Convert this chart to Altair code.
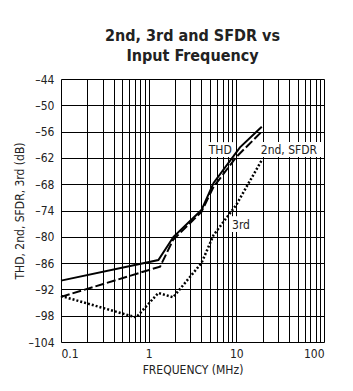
import altair as alt
import pandas as pd

# ---- data ----
thd_freq = [0.1, 1.29, 1.92, 4.0, 5.5, 11.0, 19.5]
thd_val = [-90.0, -85.3, -80.0, -73.9, -67.7, -59.6, -54.9]

sfdr_freq = [0.1, 1.35, 1.9, 4.0, 5.5, 10.1, 19.5]
sfdr_val = [-93.7, -86.8, -80.7, -74.3, -68.6, -61.7, -56.0]

third_freq = [0.1, 0.72, 1.29, 1.9, 4.0, 5.5, 10.0, 19.5]
third_val = [-93.5, -98.4, -92.8, -93.8, -86.0, -79.6, -72.7, -62.5]

y_ticks = [-104, -98, -92, -86, -80, -74, -68, -62, -56, -50, -44]
x_grid = [0.1, 0.2, 0.3, 0.4, 0.5, 0.6, 0.7, 0.8, 0.9,
          1, 2, 3, 4, 5, 6, 7, 8, 9,
          10, 20, 30, 40, 50, 60, 70, 80, 90, 100]

label_text = ["THD", "2nd, SFDR", "3rd"]
label_x = [6.55, 39.8, 11.3]
label_y = [-60.2, -60.2, -77.2]
box_x1 = [4.66, 16.8, 8.7]
box_x2 = [9.46, 94.6, 15.1]
box_y1 = [-58.4, -58.4, -75.3]
box_y2 = [-61.8, -61.8, -78.9]

FONT = "Liberation Sans Narrow, DejaVu Sans Condensed, Liberation Sans, sans-serif"

xscale = alt.Scale(type="log", domain=[0.1, 100], nice=False)
yscale = alt.Scale(domain=[-104, -44], nice=False, zero=False)

xaxis = alt.Axis(values=x_grid, tickCount=len(x_grid), grid=True, gridColor="black", gridWidth=1, gridOpacity=1,
                 ticks=False, domain=False, format="~g", labelOverlap=False,
                 labelExpr="abs(log(datum.value)/LN10 - round(log(datum.value)/LN10)) < 0.001 ? datum.label : ''",
                 labelFont=FONT, labelFontSize=12, labelColor="#222", labelPadding=6,
                 title="FREQUENCY (MHz)", titleFont=FONT, titleFontSize=12,
                 titleFontWeight="normal", titleColor="#222", titlePadding=5)
yaxis = alt.Axis(values=y_ticks, tickCount=len(y_ticks), grid=True, gridColor="black", gridWidth=1, gridOpacity=1,
                 ticks=False, domain=False, labelOverlap=False,
                 labelExpr="replace(datum.label, '−', '–')",
                 labelFont=FONT, labelFontSize=12, labelColor="#222", labelPadding=7,
                 title="THD, 2nd, SFDR, 3rd (dB)", titleFont=FONT, titleFontSize=12,
                 titleFontWeight="normal", titleColor="#222", titlePadding=2)

df_thd = pd.DataFrame({"f": thd_freq, "v": thd_val})
df_sfdr = pd.DataFrame({"f": sfdr_freq, "v": sfdr_val})
df_3rd = pd.DataFrame({"f": third_freq, "v": third_val})
df_lab = pd.DataFrame({"t": label_text, "x": label_x, "y": label_y,
                       "x1": box_x1, "x2": box_x2, "y1": box_y1, "y2": box_y2})

base_x = alt.X("f:Q", scale=xscale, axis=xaxis)
base_y = alt.Y("v:Q", scale=yscale, axis=yaxis)

grid_layer = alt.Chart(df_thd).mark_line(opacity=0).encode(x=base_x, y=base_y)

boxes = alt.Chart(df_lab).mark_rect(fill="white").encode(
    x=alt.X("x1:Q", scale=xscale), x2="x2:Q",
    y=alt.Y("y1:Q", scale=yscale), y2="y2:Q")

thd = alt.Chart(df_thd).mark_line(color="black", strokeWidth=2).encode(
    x=alt.X("f:Q", scale=xscale), y=alt.Y("v:Q", scale=yscale))
sfdr = alt.Chart(df_sfdr).mark_line(color="black", strokeWidth=2, strokeDash=[9, 3]).encode(
    x=alt.X("f:Q", scale=xscale), y=alt.Y("v:Q", scale=yscale))
third = alt.Chart(df_3rd).mark_line(color="black", strokeWidth=2.5, strokeDash=[2, 2]).encode(
    x=alt.X("f:Q", scale=xscale), y=alt.Y("v:Q", scale=yscale))

labels = alt.Chart(df_lab).mark_text(font=FONT, fontSize=12, color="#222", baseline="middle").encode(
    x=alt.X("x:Q", scale=xscale), y=alt.Y("y:Q", scale=yscale), text="t:N")

chart = alt.layer(grid_layer, boxes, thd, sfdr, third, labels).properties(
    width=263, height=263,
    title=alt.TitleParams(["2nd, 3rd and SFDR vs", "Input Frequency"],
                          font=FONT, fontSize=16, fontWeight="bold", color="#222",
                          anchor="middle", offset=9, lineHeight=20),
    autosize=alt.AutoSizeParams(type="none"),
    padding={"left": 61, "top": 79, "right": 29, "bottom": 49},
).configure_view(stroke="black", strokeWidth=1.5).configure(background="white")

chart.save("out.html", embed_options={"renderer": "svg", "actions": False})
